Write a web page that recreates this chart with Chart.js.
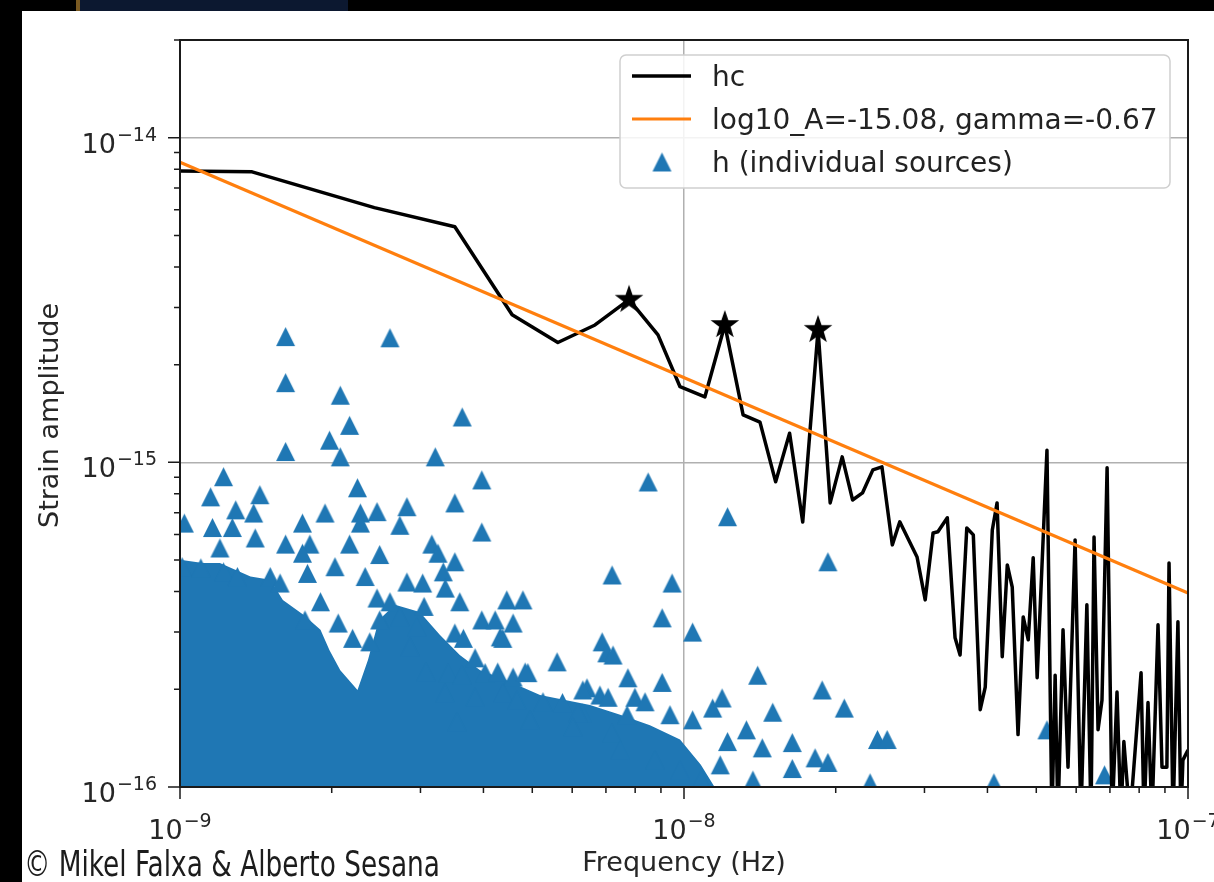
<!DOCTYPE html>
<html>
<head>
<meta charset="utf-8">
<script src="https://cdn.jsdelivr.net/npm/chart.js@4.4.1/dist/chart.umd.min.js"></script>
<style>
  html, body { margin: 0; padding: 0; background: #000; overflow: hidden; }
  #photo { position: absolute; left: 76px; top: 0; width: 268px; height: 11px; background: #0c1830; border-left: 4px solid #7a5a22; }
  #sheet { position: absolute; left: 22px; top: 11px; width: 1192px; height: 871px; background: #fff; }
  #strain { position: absolute; left: 0; top: 0; }
</style>
</head>
<body>
<div id="photo"></div>
<div id="sheet"></div>
<canvas id="strain" width="1214" height="882"></canvas>
<script>
// characteristic strain hc(f)
const hcFreq = [1.00e-9, 1.39e-9, 2.43e-9, 3.51e-9, 4.56e-9, 5.62e-9, 6.66e-9, 7.78e-9, 8.88e-9, 9.82e-9,
    1.10e-8, 1.205e-8, 1.31e-8, 1.415e-8, 1.52e-8, 1.62e-8, 1.72e-8, 1.845e-8, 1.95e-8, 2.06e-8,
    2.16e-8, 2.26e-8, 2.37e-8, 2.47e-8, 2.59e-8, 2.68e-8, 2.90e-8, 3.01e-8, 3.12e-8, 3.19e-8,
    3.33e-8, 3.45e-8, 3.53e-8, 3.64e-8, 3.75e-8, 3.87e-8, 3.96e-8, 4.09e-8, 4.18e-8, 4.28e-8,
    4.38e-8, 4.48e-8, 4.60e-8, 4.71e-8, 4.82e-8, 4.93e-8, 5.02e-8, 5.25e-8, 5.37e-8, 5.45e-8,
    5.52e-8, 5.65e-8, 5.78e-8, 5.97e-8, 6.13e-8, 6.30e-8, 6.42e-8, 6.51e-8, 6.63e-8, 6.75e-8,
    6.91e-8, 7.07e-8, 7.23e-8, 7.36e-8, 7.46e-8, 7.67e-8, 8.07e-8, 8.18e-8, 8.33e-8, 8.48e-8,
    8.72e-8, 8.88e-8, 9.08e-8, 9.17e-8, 9.34e-8, 9.55e-8, 9.68e-8, 9.77e-8, 1.00e-7];
const hcStrain = [7.90e-15, 7.85e-15, 6.09e-15, 5.32e-15, 2.85e-15, 2.34e-15, 2.65e-15, 3.17e-15, 2.47e-15, 1.71e-15,
    1.59e-15, 2.65e-15, 1.40e-15, 1.33e-15, 8.71e-16, 1.23e-15, 6.55e-16, 2.56e-15, 7.50e-16, 1.04e-15,
    7.66e-16, 8.05e-16, 9.48e-16, 9.69e-16, 5.57e-16, 6.56e-16, 5.11e-16, 3.77e-16, 6.06e-16, 6.11e-16,
    6.75e-16, 2.88e-16, 2.55e-16, 6.28e-16, 5.98e-16, 1.73e-16, 2.03e-16, 6.19e-16, 7.50e-16, 2.52e-16,
    4.83e-16, 4.13e-16, 1.45e-16, 3.34e-16, 2.84e-16, 5.08e-16, 2.17e-16, 1.09e-15, 8.0e-17, 2.21e-16,
    8.0e-17, 3.05e-16, 1.15e-16, 5.77e-16, 8.0e-17, 3.64e-16, 8.0e-17, 5.89e-16, 1.50e-16, 1.85e-16,
    9.62e-16, 8.0e-17, 1.96e-16, 8.0e-17, 1.38e-16, 8.0e-17, 2.25e-16, 8.0e-17, 1.82e-16, 8.0e-17,
    3.16e-16, 1.15e-16, 1.15e-16, 4.90e-16, 8.0e-17, 3.23e-16, 8.0e-17, 1.21e-16, 1.30e-16];

// starred peaks on hc
const peakFreq = [7.78e-9, 1.205e-8, 1.845e-8];
const peakStrain = [3.17e-15, 2.65e-15, 2.56e-15];

// power law fit (end points)
const fitFreq = [1e-9, 1e-7];
const fitStrain = [8.4e-15, 3.96e-16];

// individual sources
const srcFreq = [1.62e-9, 2.61e-9, 1.62e-9, 2.08e-9, 3.63e-9, 2.17e-9, 1.98e-9, 1.62e-9, 2.08e-9, 3.21e-9,
    1.22e-9, 3.97e-9, 8.49e-9, 1.15e-9, 1.44e-9, 2.25e-9, 3.51e-9, 1.22e-8, 1.02e-9, 1.29e-9,
    1.40e-9, 1.75e-9, 1.94e-9, 2.28e-9, 2.46e-9, 2.82e-9, 2.73e-9, 2.28e-9, 3.97e-9, 1.16e-9,
    1.27e-9, 1.41e-9, 1.62e-9, 1.81e-9, 2.17e-9, 3.16e-9, 1.20e-9, 1.75e-9, 2.49e-9, 3.25e-9,
    3.51e-9, 7.20e-9, 9.47e-9, 1.93e-8, 4.45e-9, 4.79e-9, 4.58e-9, 9.05e-9, 4.37e-9, 1.04e-8,
    6.88e-9, 7.03e-9, 7.23e-9, 5.60e-9, 1.40e-8, 7.74e-9, 9.05e-9, 1.88e-8, 6.42e-9, 6.81e-9,
    7.07e-9, 4.58e-9, 4.90e-9, 5.25e-9, 5.74e-9, 7.99e-9, 8.37e-9, 1.19e-8, 1.14e-8, 2.08e-8,
    1.50e-8, 6.28e-9, 7.71e-9, 9.38e-9, 1.04e-8, 1.33e-8, 1.22e-8, 1.43e-8, 1.64e-8, 7.20e-9,
    1.82e-8, 1.93e-8, 1.64e-8, 2.42e-8, 2.53e-8, 1.08e-8, 1.37e-8, 2.34e-8, 5.25e-8, 6.83e-8,
    4.12e-8, 1.01e-9, 1.10e-9, 1.22e-9, 1.30e-9, 1.51e-9, 1.58e-9, 1.79e-9, 2.03e-9, 2.33e-9,
    2.82e-9, 3.03e-9, 3.33e-9, 3.36e-9, 3.59e-9, 1.90e-9, 2.46e-9, 2.61e-9, 3.05e-9, 1.77e-9,
    2.06e-9, 2.49e-9, 2.73e-9, 2.95e-9, 3.97e-9, 4.22e-9, 2.20e-9, 2.38e-9, 2.86e-9, 3.51e-9,
    3.65e-9, 4.32e-9, 3.85e-9, 3.08e-9, 3.40e-9, 3.63e-9, 4.03e-9, 4.27e-9, 4.84e-9, 3.36e-9,
    3.85e-9, 4.37e-9, 4.66e-9, 6.30e-9, 6.16e-9, 3.55e-9, 4.95e-9, 6.02e-9, 8.76e-9, 9.82e-9,
    1.18e-8, 7.47e-9];
const srcStrain = [2.44e-15, 2.42e-15, 1.76e-15, 1.61e-15, 1.38e-15, 1.30e-15, 1.17e-15, 1.08e-15, 1.04e-15, 1.04e-15,
    9.03e-16, 8.83e-16, 8.70e-16, 7.83e-16, 7.95e-16, 8.35e-16, 7.50e-16, 6.80e-16, 6.50e-16, 7.14e-16,
    6.98e-16, 6.50e-16, 6.98e-16, 6.98e-16, 7.05e-16, 7.30e-16, 6.40e-16, 6.50e-16, 6.10e-16, 6.30e-16,
    6.30e-16, 5.85e-16, 5.60e-16, 5.60e-16, 5.60e-16, 5.60e-16, 5.45e-16, 5.25e-16, 5.20e-16, 5.25e-16,
    4.94e-16, 4.50e-16, 4.25e-16, 4.94e-16, 3.77e-16, 3.77e-16, 3.20e-16, 3.32e-16, 2.87e-16, 3.00e-16,
    2.80e-16, 2.59e-16, 2.55e-16, 2.43e-16, 2.21e-16, 2.17e-16, 2.10e-16, 1.99e-16, 2.02e-16, 1.92e-16,
    1.89e-16, 2.18e-16, 2.25e-16, 1.83e-16, 1.82e-16, 1.89e-16, 1.83e-16, 1.88e-16, 1.75e-16, 1.75e-16,
    1.70e-16, 1.69e-16, 1.67e-16, 1.67e-16, 1.61e-16, 1.50e-16, 1.38e-16, 1.32e-16, 1.37e-16, 1.47e-16,
    1.23e-16, 1.19e-16, 1.14e-16, 1.40e-16, 1.40e-16, 1.05e-16, 1.05e-16, 1.03e-16, 1.50e-16, 1.09e-16,
    1.03e-16, 4.77e-16, 4.73e-16, 4.60e-16, 4.45e-16, 4.45e-16, 4.25e-16, 4.55e-16, 4.77e-16, 4.45e-16,
    4.28e-16, 4.25e-16, 4.60e-16, 4.10e-16, 3.72e-16, 3.72e-16, 3.82e-16, 3.72e-16, 3.60e-16, 3.27e-16,
    3.20e-16, 3.27e-16, 3.35e-16, 3.11e-16, 3.27e-16, 3.27e-16, 2.87e-16, 2.80e-16, 2.70e-16, 2.98e-16,
    2.87e-16, 2.90e-16, 2.50e-16, 2.26e-16, 2.25e-16, 2.21e-16, 2.25e-16, 2.26e-16, 2.26e-16, 1.95e-16,
    1.89e-16, 1.95e-16, 1.85e-16, 1.99e-16, 1.69e-16, 1.59e-16, 1.61e-16, 1.53e-16, 1.21e-16, 1.13e-16,
    1.17e-16, 1.30e-16];

// upper edge of the saturated cloud of sources (solid blue below it)
const denseFreq = [1.00e-9, 1.11e-9, 1.20e-9, 1.38e-9, 1.51e-9, 1.60e-9, 1.76e-9, 1.90e-9, 1.98e-9, 2.08e-9,
    2.25e-9, 2.36e-9, 2.48e-9, 2.67e-9, 2.99e-9, 3.28e-9, 3.59e-9, 3.94e-9, 4.42e-9, 5.18e-9,
    6.51e-9, 7.47e-9, 8.56e-9, 9.82e-9, 1.08e-8, 1.15e-8];
const denseStrain = [5.01e-16, 4.90e-16, 4.90e-16, 4.45e-16, 4.35e-16, 3.77e-16, 3.39e-16, 3.05e-16, 2.64e-16, 2.29e-16,
    1.99e-16, 2.46e-16, 3.27e-16, 3.64e-16, 3.46e-16, 2.94e-16, 2.55e-16, 2.29e-16, 2.14e-16, 1.92e-16,
    1.79e-16, 1.67e-16, 1.55e-16, 1.40e-16, 1.17e-16, 1.00e-16];

const xMajor = [1e-9, 1e-8, 1e-7];
const yMajor = [1e-16, 1e-15, 1e-14];
const xTickExp = ['\u22129', '\u22128', '\u22127'];
const yTickExp = ['\u221216', '\u221215', '\u221214'];
const minorMult = [2, 3, 4, 5, 6, 7, 8, 9];

const seriesLabels = ['hc', 'log10_A=-15.08, gamma=-0.67', 'h (individual sources)'];
const xTitle = 'Frequency (Hz)';
const yTitle = 'Strain amplitude';
const credit = '\u00a9 Mikel Falxa & Alberto Sesana';

const BLUE = '#1f77b4';
const ORANGE = '#ff7f0e';
const FONT = '"DejaVu Sans", sans-serif';

const xMinor = [1e-9, 1e-8].flatMap(d => minorMult.map(m => m * d));
const yMinor = [1e-16, 1e-15, 1e-14].flatMap(d => minorMult.map(m => m * d)).filter(v => v <= 2e-14);

const pts = (xs, ys) => xs.map((x, i) => ({x: x, y: ys[i]}));

function starMarker(R, r) {
    const c = document.createElement('canvas');
    c.width = c.height = 2 * R + 2;
    const g = c.getContext('2d');
    g.translate(R + 1, R + 1);
    g.beginPath();
    for (let i = 0; i < 10; i++) {
        const rad = i % 2 ? r : R;
        const a = -Math.PI / 2 + i * Math.PI / 5;
        g.lineTo(rad * Math.cos(a), rad * Math.sin(a));
    }
    g.closePath();
    g.fillStyle = '#000';
    g.fill();
    return c;
}

function triMarker(size, color) {
    const c = document.createElement('canvas');
    c.width = c.height = size + 2;
    const g = c.getContext('2d');
    g.beginPath();
    g.moveTo(1 + size / 2, 1);
    g.lineTo(1 + size, 1 + size);
    g.lineTo(1, 1 + size);
    g.closePath();
    g.fillStyle = color;
    g.fill();
    return c;
}

const starImg = starMarker(15, 6);
const triImg = triMarker(19, BLUE);

// 10^n label, y is the baseline of "10"
function drawPower(ctx, exp, x, y, align) {
    ctx.font = '27px ' + FONT;
    const wBase = ctx.measureText('10').width;
    ctx.font = '19px ' + FONT;
    const wExp = ctx.measureText(exp).width;
    const total = wBase + 1 + wExp;
    const left = align === 'center' ? x - total / 2 : x - total;
    ctx.textAlign = 'left';
    ctx.textBaseline = 'alphabetic';
    ctx.font = '27px ' + FONT;
    ctx.fillText('10', left, y);
    ctx.font = '19px ' + FONT;
    ctx.fillText(exp, left + wBase + 1, y - 12);
}

const axisDecor = {
    id: 'axisDecor',
    afterDatasetsDraw(chart) {
        const {ctx, chartArea: a} = chart;
        const xs = chart.scales.x, ys = chart.scales.y;
        ctx.save();
        ctx.strokeStyle = '#1a1a1a';
        ctx.lineWidth = 1.5;
        ctx.beginPath();
        xMajor.forEach(v => { const p = xs.getPixelForValue(v); ctx.moveTo(p, a.bottom); ctx.lineTo(p, a.bottom + 12); });
        xMinor.forEach(v => { const p = xs.getPixelForValue(v); ctx.moveTo(p, a.bottom); ctx.lineTo(p, a.bottom + 6); });
        yMajor.forEach(v => { const p = ys.getPixelForValue(v); ctx.moveTo(a.left, p); ctx.lineTo(a.left - 12, p); });
        yMinor.forEach(v => { const p = ys.getPixelForValue(v); ctx.moveTo(a.left, p); ctx.lineTo(a.left - 6, p); });
        ctx.stroke();
        ctx.lineWidth = 2;
        ctx.strokeRect(a.left, a.top, a.right - a.left, a.bottom - a.top);

        ctx.fillStyle = '#262626';
        xMajor.forEach((v, i) => drawPower(ctx, xTickExp[i], xs.getPixelForValue(v), a.bottom + 52, 'center'));
        yMajor.forEach((v, i) => drawPower(ctx, yTickExp[i], a.left - 23, ys.getPixelForValue(v) + 15, 'right'));

        ctx.font = '27px ' + FONT;
        ctx.textAlign = 'center';
        ctx.fillText(xTitle, (a.left + a.right) / 2, 871);
        ctx.save();
        ctx.translate(58, (a.top + a.bottom) / 2 + 2);
        ctx.rotate(-Math.PI / 2);
        ctx.fillText(yTitle, 0, 0);
        ctx.restore();

        // photo credit in a condensed face
        ctx.font = '36px "Liberation Sans Narrow", "DejaVu Sans Condensed", sans-serif';
        ctx.textAlign = 'left';
        ctx.fillStyle = '#1c1c1c';
        const w = ctx.measureText(credit).width;
        ctx.translate(24, 876);
        ctx.scale(416 / w, 1);
        ctx.fillText(credit, 0, 0);
        ctx.restore();
    },
    afterDraw(chart) {
        const {ctx} = chart;
        ctx.save();
        ctx.beginPath();
        ctx.roundRect(620, 55, 550, 133, 6);
        ctx.fillStyle = 'rgba(255,255,255,0.85)';
        ctx.fill();
        ctx.strokeStyle = '#cfcfcf';
        ctx.lineWidth = 1.5;
        ctx.stroke();
        const rows = [76, 119, 162];
        ctx.lineWidth = 3.5;
        ctx.strokeStyle = '#000';
        ctx.beginPath(); ctx.moveTo(632, rows[0]); ctx.lineTo(691, rows[0]); ctx.stroke();
        ctx.lineWidth = 3.2;
        ctx.strokeStyle = ORANGE;
        ctx.beginPath(); ctx.moveTo(632, rows[1]); ctx.lineTo(691, rows[1]); ctx.stroke();
        ctx.drawImage(triImg, 662 - triImg.width / 2, rows[2] - triImg.height / 2);
        ctx.fillStyle = '#222';
        ctx.font = '28px ' + FONT;
        ctx.textAlign = 'left';
        ctx.textBaseline = 'alphabetic';
        seriesLabels.forEach((t, i) => ctx.fillText(t, 712, rows[i] + 10));
        ctx.restore();
    }
};

new Chart(document.getElementById('strain'), {
    type: 'scatter',
    data: {
        datasets: [{
            label: 'peaks',
            data: pts(peakFreq, peakStrain),
            pointStyle: starImg,
            pointRadius: 15,
            order: 0
        }, {
            type: 'line',
            label: seriesLabels[1],
            data: pts(fitFreq, fitStrain),
            borderColor: ORANGE,
            borderWidth: 3.2,
            pointRadius: 0,
            fill: false,
            order: 1
        }, {
            type: 'line',
            label: seriesLabels[0],
            data: pts(hcFreq, hcStrain),
            borderColor: '#000',
            borderWidth: 3.5,
            borderJoinStyle: 'round',
            pointRadius: 0,
            fill: false,
            clip: 0,
            order: 2
        }, {
            label: seriesLabels[2],
            data: pts(srcFreq, srcStrain),
            pointStyle: triImg,
            pointRadius: 10,
            backgroundColor: BLUE,
            clip: 0,
            order: 3
        }, {
            type: 'line',
            label: 'dense',
            data: pts(denseFreq, denseStrain),
            borderWidth: 0,
            borderColor: BLUE,
            backgroundColor: BLUE,
            pointRadius: 0,
            fill: 'start',
            clip: 0,
            order: 4
        }]
    },
    options: {
        responsive: false,
        devicePixelRatio: 1,
        animation: false,
        events: [],
        layout: {padding: {left: 180, top: 40, right: 26, bottom: 95}},
        plugins: {
            legend: {display: false},
            tooltip: {enabled: false}
        },
        scales: {
            x: {
                type: 'logarithmic',
                min: 1e-9,
                max: 1e-7,
                ticks: {display: false},
                grid: {color: '#b0b0b0', lineWidth: 1.5, drawTicks: false},
                border: {display: false},
                afterBuildTicks: s => { s.ticks = xMajor.map(v => ({value: v})); }
            },
            y: {
                type: 'logarithmic',
                min: 1e-16,
                max: 2e-14,
                ticks: {display: false},
                grid: {color: '#b0b0b0', lineWidth: 1.5, drawTicks: false},
                border: {display: false},
                afterBuildTicks: s => { s.ticks = yMajor.map(v => ({value: v})); }
            }
        }
    },
    plugins: [axisDecor]
});
</script>
</body>
</html>
